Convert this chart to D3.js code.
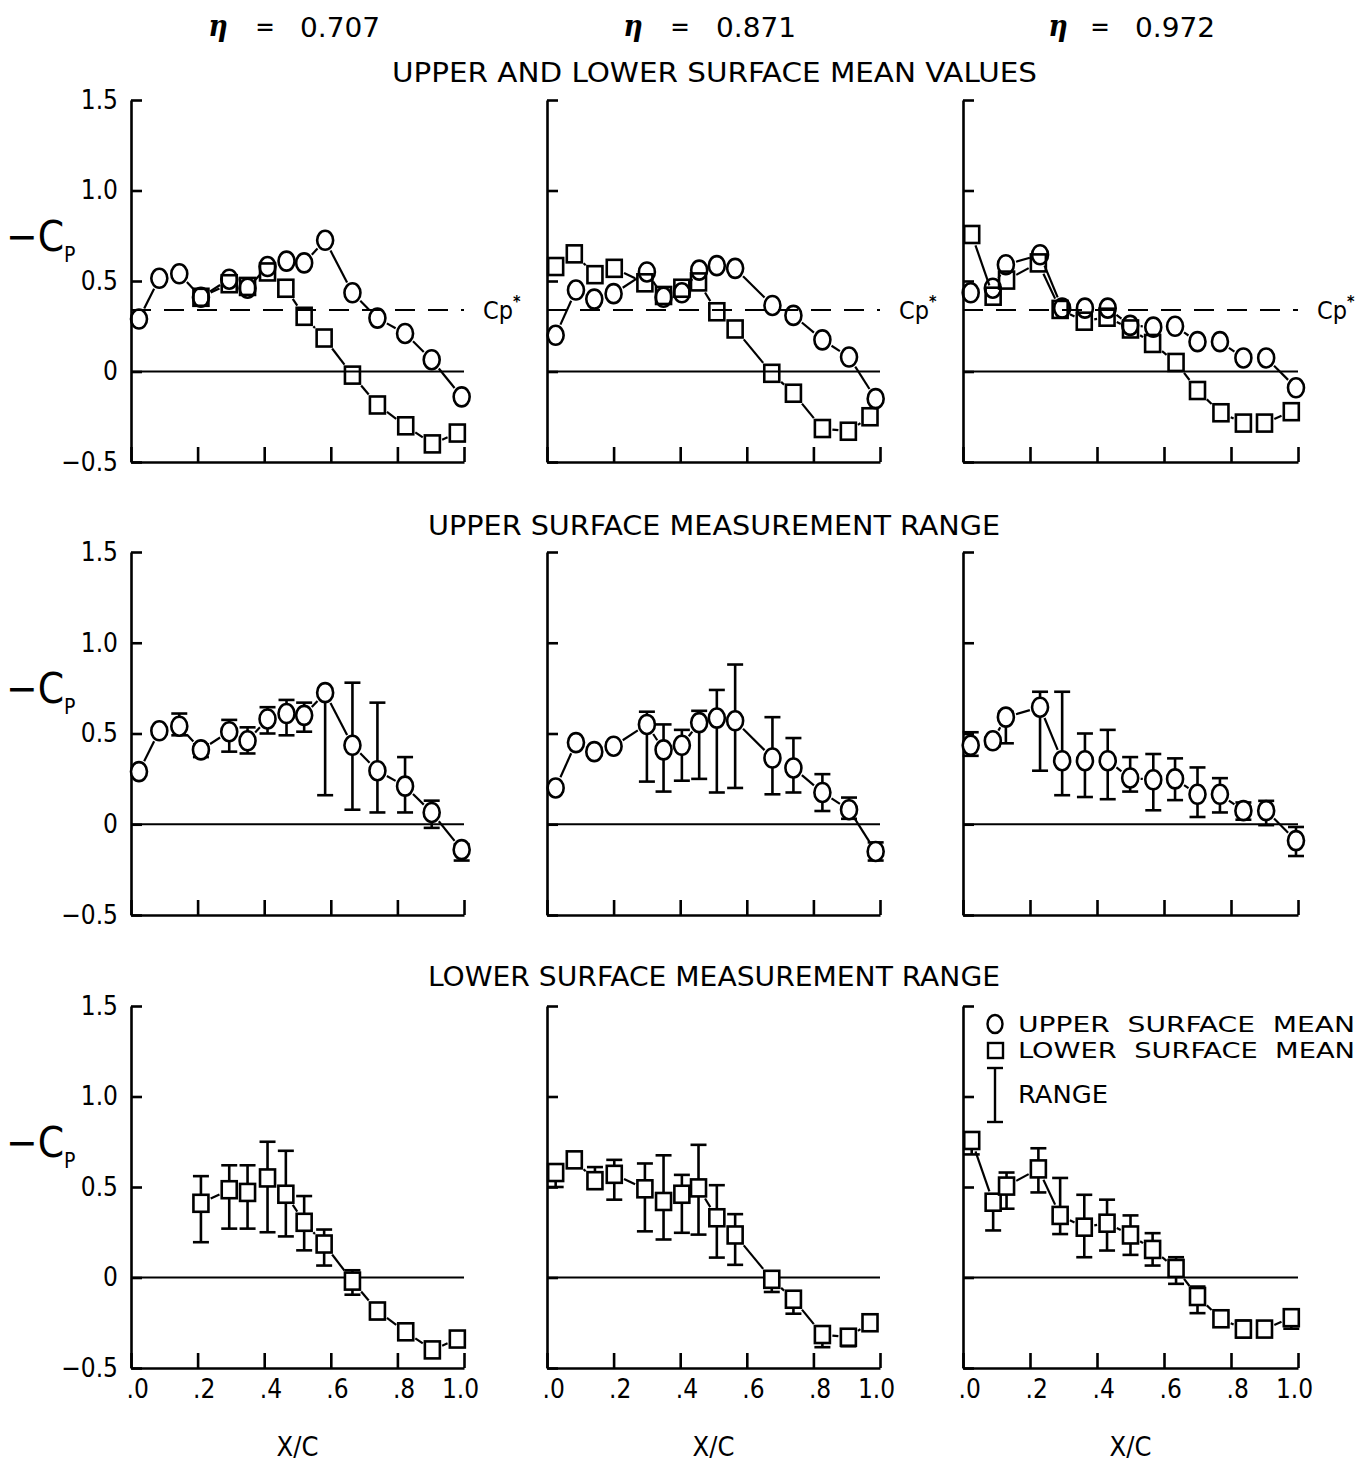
<!DOCTYPE html>
<html><head><meta charset="utf-8">
<script src="https://cdn.jsdelivr.net/npm/d3@7"></script>
<style>
body{margin:0;background:#fff;}
svg{display:block;background:#fff;}
text{font-family:"DejaVu Sans Condensed","DejaVu Sans","Liberation Sans",sans-serif;font-stretch:condensed;fill:#000;}
</style></head><body>
<svg id="chart" width="1372" height="1467"></svg>
<script>
// ---------- text / ticks ----------
const etaValues = ["0.707", "0.871", "0.972"];
const sectionTitles = ["UPPER AND LOWER SURFACE MEAN VALUES", "UPPER SURFACE MEASUREMENT RANGE", "LOWER SURFACE MEASUREMENT RANGE"];
const yTickValues = [-0.5, 0, 0.5, 1.0, 1.5];
const yTickLabels = ["\u22120.5", "0", "0.5", "1.0", "1.5"];
const xTickValues = [0, 0.2, 0.4, 0.6, 0.8, 1.0];
const xTickLabels = [".0", ".2", ".4", ".6", ".8", "1.0"];
const cpStar = [0.34, 0.34, 0.34];
const legendLabels = ["UPPER  SURFACE  MEAN", "LOWER  SURFACE  MEAN", "RANGE"];

// ---------- eta = 0.707 ----------
const xUpper707  = [0.024,0.085,0.145,0.21,0.295,0.35,0.41,0.467,0.52,0.583,0.665,0.74,0.823,0.903,0.993];
const cpUpper707 = [0.29,0.515,0.54,0.41,0.51,0.46,0.58,0.61,0.60,0.725,0.435,0.295,0.21,0.065,-0.14];
const hiUpper707 = [0.31,0.53,0.61,0.44,0.575,0.534,0.645,0.685,0.67,0.75,0.78,0.67,0.37,0.13,-0.11];
const loUpper707 = [0.27,0.50,0.49,0.37,0.40,0.39,0.50,0.49,0.51,0.16,0.08,0.065,0.065,-0.02,-0.20];
const xLower707  = [0.21,0.295,0.35,0.41,0.465,0.52,0.58,0.665,0.74,0.825,0.905,0.98];
const cpLower707 = [0.41,0.485,0.47,0.55,0.46,0.305,0.185,-0.02,-0.185,-0.30,-0.40,-0.34];
const hiLower707 = [0.56,0.62,0.62,0.75,0.70,0.45,0.265,0.04,-0.15,-0.27,-0.37,-0.31];
const loLower707 = [0.195,0.27,0.27,0.25,0.227,0.15,0.066,-0.095,-0.23,-0.33,-0.43,-0.37];

// ---------- eta = 0.871 ----------
const xUpper871  = [0.026,0.087,0.142,0.20,0.30,0.35,0.405,0.457,0.51,0.565,0.677,0.74,0.827,0.907,0.987];
const cpUpper871 = [0.20,0.45,0.40,0.43,0.55,0.41,0.435,0.56,0.585,0.57,0.365,0.31,0.175,0.08,-0.15];
const hiUpper871 = [0.22,0.47,0.42,0.45,0.62,0.55,0.52,0.625,0.74,0.88,0.59,0.475,0.276,0.147,-0.10];
const loUpper871 = [0.18,0.43,0.38,0.41,0.235,0.18,0.24,0.25,0.175,0.20,0.165,0.175,0.073,0.03,-0.20];
const xLower871  = [0.026,0.082,0.144,0.202,0.294,0.35,0.405,0.455,0.51,0.565,0.675,0.74,0.827,0.905,0.97];
const cpLower871 = [0.58,0.65,0.535,0.57,0.49,0.42,0.46,0.495,0.33,0.235,-0.01,-0.12,-0.315,-0.33,-0.25];
const hiLower871 = [0.62,0.69,0.61,0.65,0.63,0.675,0.567,0.733,0.51,0.35,0.03,-0.08,-0.28,-0.30,-0.23];
const loLower871 = [0.50,0.61,0.49,0.43,0.255,0.21,0.247,0.237,0.11,0.07,-0.08,-0.20,-0.385,-0.38,-0.27];

// ---------- eta = 0.972 ----------
const xUpper972  = [0.023,0.089,0.128,0.23,0.296,0.364,0.432,0.499,0.568,0.633,0.70,0.767,0.837,0.905,0.994];
const cpUpper972 = [0.435,0.46,0.59,0.645,0.35,0.35,0.35,0.255,0.245,0.25,0.165,0.165,0.075,0.075,-0.09];
const hiUpper972 = [0.507,0.48,0.62,0.73,0.73,0.50,0.52,0.37,0.387,0.363,0.313,0.254,0.12,0.129,-0.015];
const loUpper972 = [0.377,0.43,0.446,0.295,0.16,0.15,0.138,0.18,0.077,0.133,0.04,0.065,0.025,-0.005,-0.175];
const xLower972  = [0.026,0.09,0.13,0.225,0.29,0.362,0.43,0.50,0.566,0.636,0.70,0.77,0.837,0.90,0.98];
const cpLower972 = [0.757,0.416,0.505,0.60,0.343,0.278,0.30,0.235,0.155,0.05,-0.105,-0.228,-0.285,-0.285,-0.222];
const hiLower972 = [0.79,0.45,0.58,0.714,0.55,0.457,0.43,0.343,0.245,0.112,-0.05,-0.20,-0.238,-0.26,-0.20];
const loLower972 = [0.68,0.26,0.38,0.47,0.24,0.112,0.149,0.125,0.066,-0.035,-0.197,-0.25,-0.332,-0.31,-0.283];

// ---------- build series ----------
function series(xs, cps, his, los) {
  return xs.map((x, i) => ({x, cp: cps[i], hi: his[i], lo: los[i]}));
}
const stations = [
  {upper: series(xUpper707, cpUpper707, hiUpper707, loUpper707), lower: series(xLower707, cpLower707, hiLower707, loLower707)},
  {upper: series(xUpper871, cpUpper871, hiUpper871, loUpper871), lower: series(xLower871, cpLower871, hiLower871, loLower871)},
  {upper: series(xUpper972, cpUpper972, hiUpper972, loUpper972), lower: series(xLower972, cpLower972, hiLower972, loLower972)}
];

// ---------- layout ----------
const colLeft = [131, 547, 963], colRight = [464, 880, 1298];
const rowTop = [100, 552, 1006], rowBottom = [462, 915, 1368];
const RX = 8, RY = 9.5, SW = 7.5, SH = 8.5;

const svg = d3.select("#chart");

function markerRadius(kind, dx, dy) {
  const len = Math.hypot(dx, dy) || 1;
  const c = Math.abs(dx / len), s = Math.abs(dy / len);
  if (kind === "circle") return 1 / Math.sqrt((c / RX) ** 2 + (s / RY) ** 2);
  return Math.min(c > 1e-6 ? SW / c : 1e9, s > 1e-6 ? SH / s : 1e9);
}

function drawSeries(g, data, kind, x, y, withRange) {
  // connecting segments, trimmed at marker edges
  for (let i = 0; i < data.length - 1; i++) {
    const x1 = x(data[i].x), y1 = y(data[i].cp), x2 = x(data[i + 1].x), y2 = y(data[i + 1].cp);
    const dx = x2 - x1, dy = y2 - y1, len = Math.hypot(dx, dy);
    const r1 = markerRadius(kind, dx, dy) + 2.5, r2 = markerRadius(kind, dx, dy) + 2.5;
    if (len > r1 + r2 + 2) {
      const ux = dx / len, uy = dy / len;
      g.append("line")
        .attr("x1", x1 + ux * r1).attr("y1", y1 + uy * r1)
        .attr("x2", x2 - ux * r2).attr("y2", y2 - uy * r2)
        .attr("stroke", "#000").attr("stroke-width", 2.2);
    }
  }
  if (withRange) {
    const rg = g.append("g").attr("stroke", "#000").attr("stroke-width", 2.6);
    data.forEach(d => {
      const cx = x(d.x);
      rg.append("line").attr("x1", cx).attr("x2", cx).attr("y1", y(d.hi)).attr("y2", y(d.lo));
      rg.append("line").attr("x1", cx - 8).attr("x2", cx + 8).attr("y1", y(d.hi)).attr("y2", y(d.hi));
      rg.append("line").attr("x1", cx - 8).attr("x2", cx + 8).attr("y1", y(d.lo)).attr("y2", y(d.lo));
    });
  }
  const fill = withRange ? "#fff" : "none";
  if (kind === "circle") {
    g.selectAll(null).data(data).join("ellipse")
      .attr("cx", d => x(d.x)).attr("cy", d => y(d.cp))
      .attr("rx", RX).attr("ry", RY)
      .attr("fill", fill).attr("stroke", "#000").attr("stroke-width", 2.6);
  } else {
    g.selectAll(null).data(data).join("rect")
      .attr("x", d => x(d.x) - SW).attr("y", d => y(d.cp) - SH)
      .attr("width", 2 * SW).attr("height", 2 * SH)
      .attr("fill", fill).attr("stroke", "#000").attr("stroke-width", 2.6);
  }
}

for (let r = 0; r < 3; r++) {
  for (let c = 0; c < 3; c++) {
    const x = d3.scaleLinear().domain([0, 1]).range([colLeft[c], colRight[c]]);
    const y = d3.scaleLinear().domain([-0.5, 1.5]).range([rowBottom[r], rowTop[r]]);
    const g = svg.append("g");

    // zero line
    g.append("line").attr("x1", x(0)).attr("x2", x(1)).attr("y1", y(0)).attr("y2", y(0))
      .attr("stroke", "#000").attr("stroke-width", 1.8);

    // y axis
    const ya = g.append("g").attr("transform", `translate(${colLeft[c]},0)`)
      .call(d3.axisLeft(y).tickValues(yTickValues).tickSizeInner(-11).tickSizeOuter(0).tickPadding(13)
        .tickFormat((d, i) => c === 0 ? yTickLabels[i] : ""));
    ya.select(".domain").attr("stroke-width", 2.6);
    ya.selectAll(".tick line").attr("stroke-width", 2.6);
    ya.selectAll(".tick text").attr("font-size", 26).attr("font-family", null);

    // x axis
    const xa = g.append("g").attr("transform", `translate(0,${rowBottom[r]})`)
      .call(d3.axisBottom(x).tickValues(xTickValues).tickSizeInner(-15).tickSizeOuter(0).tickPadding(12)
        .tickFormat((d, i) => r === 2 ? xTickLabels[i] : ""));
    xa.select(".domain").attr("stroke-width", 2.6);
    xa.selectAll(".tick line").attr("stroke-width", 2.6);
    xa.selectAll(".tick text").attr("font-size", 26).attr("font-family", null)
      .each(function (d, i) {
        const t = d3.select(this);
        if (xTickLabels[i].startsWith(".")) t.attr("text-anchor", "start").attr("x", -5);
        else t.attr("text-anchor", "middle").attr("x", -4);
      });
    g.selectAll(".tick text").style("font-family", '"DejaVu Sans Condensed","DejaVu Sans",sans-serif');

    const st = stations[c];
    if (r === 0) {
      g.append("line").attr("x1", x(0)).attr("x2", x(1)).attr("y1", y(cpStar[c])).attr("y2", y(cpStar[c]))
        .attr("stroke", "#000").attr("stroke-width", 2).attr("stroke-dasharray", "20,13");
      const t = g.append("text").attr("x", x(1) + 19).attr("y", y(cpStar[c]) + 9).attr("font-size", 25);
      t.append("tspan").text("Cp");
      t.append("tspan").attr("font-size", 16).attr("font-weight", "bold").attr("dy", -12).text("*");
      drawSeries(g, st.lower, "square", x, y, false);
      drawSeries(g, st.upper, "circle", x, y, false);
    } else if (r === 1) {
      drawSeries(g, st.upper, "circle", x, y, true);
    } else {
      drawSeries(g, st.lower, "square", x, y, true);
    }

    if (c === 0) {
      const yl = svg.append("text").attr("x", 6).attr("y", y(1.0) + 60).attr("font-size", 42);
      yl.append("tspan").text("\u2212C");
      yl.append("tspan").attr("font-size", 21).attr("dy", 11).text("P");
    }
    if (r === 2) {
      svg.append("text").attr("x", (colLeft[c] + colRight[c]) / 2).attr("y", 1456)
        .attr("text-anchor", "middle").attr("font-size", 27).text("X/C");
    }
  }
}

// section titles
const titleY = [82, 535, 986];
const titleSpan = [[392, 1037], [428, 1000], [428, 1000]];
sectionTitles.forEach((t, i) => {
  svg.append("text").attr("x", titleSpan[i][0]).attr("y", titleY[i]).attr("font-size", 27)
    .attr("textLength", titleSpan[i][1] - titleSpan[i][0]).attr("lengthAdjust", "spacingAndGlyphs").text(t);
});

// eta headers
const etaPos = [[218, 265, 300], [633, 680, 716], [1058, 1100, 1135]];
etaValues.forEach((v, i) => {
  svg.append("text").attr("x", etaPos[i][0]).attr("y", 36).attr("text-anchor", "middle")
    .attr("font-size", 30).attr("font-weight", "bold").attr("font-style", "italic")
    .style("font-family", "DejaVu Serif").text("\u03B7");
  svg.append("text").attr("x", etaPos[i][1]).attr("y", 36).attr("text-anchor", "middle")
    .attr("font-size", 26).text("=");
  svg.append("text").attr("x", etaPos[i][2]).attr("y", 37).attr("font-size", 27)
    .attr("textLength", 80).attr("lengthAdjust", "spacingAndGlyphs").text(v);
});

// legend (inside lower-right panel)
const lg = svg.append("g");
lg.append("ellipse").attr("cx", 995).attr("cy", 1024).attr("rx", 7.5).attr("ry", 9)
  .attr("fill", "none").attr("stroke", "#000").attr("stroke-width", 2.4);
lg.append("rect").attr("x", 988).attr("y", 1043).attr("width", 15).attr("height", 15)
  .attr("fill", "none").attr("stroke", "#000").attr("stroke-width", 2.4);
lg.append("line").attr("x1", 995).attr("x2", 995).attr("y1", 1068).attr("y2", 1122).attr("stroke", "#000").attr("stroke-width", 2.4);
lg.append("line").attr("x1", 987).attr("x2", 1003).attr("y1", 1068).attr("y2", 1068).attr("stroke", "#000").attr("stroke-width", 2.4);
lg.append("line").attr("x1", 987).attr("x2", 1003).attr("y1", 1122).attr("y2", 1122).attr("stroke", "#000").attr("stroke-width", 2.4);
const legY = [1032, 1058, 1103], legW = [337, 337, 90], legFS = [21.5, 21.5, 25];
legendLabels.forEach((t, i) => {
  lg.append("text").attr("x", 1018).attr("y", legY[i]).attr("font-size", legFS[i])
    .attr("textLength", legW[i]).attr("lengthAdjust", "spacingAndGlyphs")
    .style("white-space", "pre").text(t);
});
</script>
</body></html>
